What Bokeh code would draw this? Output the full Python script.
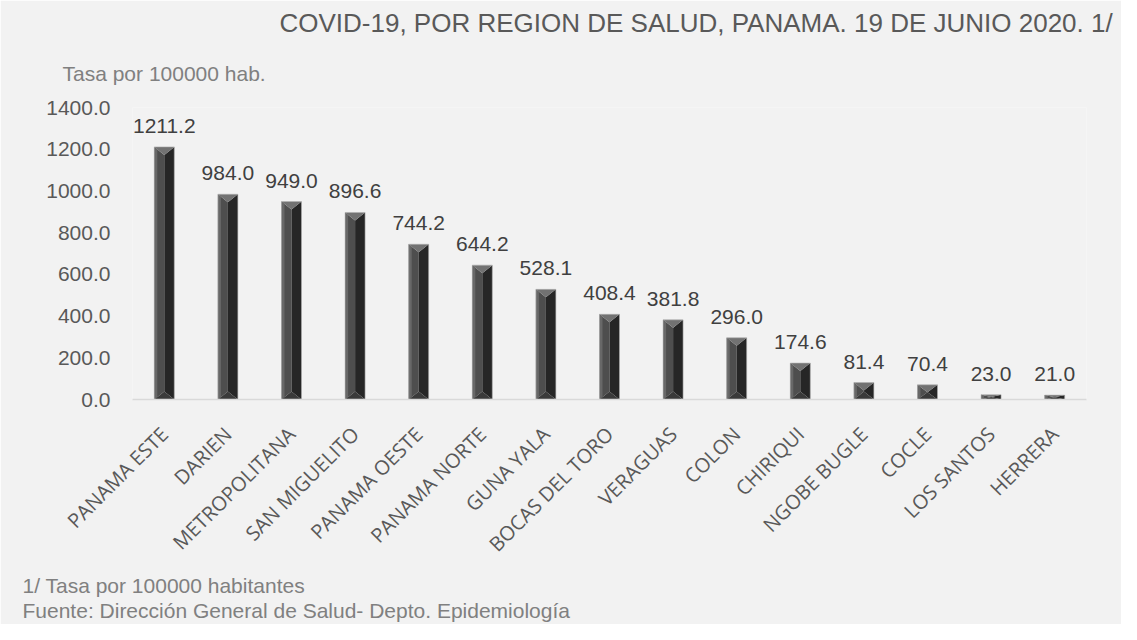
import math
from bokeh.plotting import figure
from bokeh.models import (ColumnDataSource, FixedTicker, PrintfTickFormatter, Range1d, Title)
from bokeh.core.properties import value
from bokeh.embed import file_html
from bokeh.resources import INLINE

regions = ["PANAMA ESTE", "DARIEN", "METROPOLITANA", "SAN MIGUELITO", "PANAMA OESTE",
           "PANAMA NORTE", "GUNA YALA", "BOCAS DEL TORO", "VERAGUAS", "COLON",
           "CHIRIQUI", "NGOBE BUGLE", "COCLE", "LOS SANTOS", "HERRERA"]
tasa = [1211.2, 984.0, 949.0, 896.6, 744.2, 644.2, 528.1, 408.4, 381.8, 296.0,
        174.6, 81.4, 70.4, 23.0, 21.0]
y_ticks = [0, 200, 400, 600, 800, 1000, 1200, 1400]

title_text = "COVID-19, POR REGION DE SALUD, PANAMA. 19 DE JUNIO 2020. 1/"
ylabel_text = "Tasa por 100000 hab."
foot1 = "1/ Tasa por 100000 habitantes"
foot2 = "Fuente: Dirección General de Salud- Depto. Epidemiología"

W, H = 1121, 624
FL, FR, FT = 132, 35, 107
frame_h = 292
ymax = 1400

p = figure(width=W, height=H, output_backend="svg", toolbar_location=None,
           x_range=Range1d(-0.5, len(regions) - 0.5), y_range=Range1d(0, ymax),
           min_border_left=FL, min_border_right=FR, min_border_top=FT, min_border_bottom=0)
p.background_fill_color = "#f2f2f2"
p.border_fill_color = "#f2f2f2"
p.outline_line_color = None
p.xgrid.grid_line_color = None
p.ygrid.grid_line_color = None

# bevelled bars built from data
hw = 0.157
bev_px = 8
units_per_px = ymax / frame_h
xs_top, ys_top, xs_bot, ys_bot, xs_l, ys_l, xs_r, ys_r, xs_s, ys_s = ([] for _ in range(10))
for i, v in enumerate(tasa):
    L, R, C = i - hw, i + hw, i
    by = min(bev_px * units_per_px, v / 2)
    xs_top.append([L, R, C]); ys_top.append([v, v, v - by])
    xs_bot.append([L, R, C]); ys_bot.append([0, 0, by])
    xs_l.append([L, L, C, C]); ys_l.append([0, v, v - by, by])
    xs_r.append([R, R, C, C]); ys_r.append([0, v, v - by, by])
    s = L + (C - L) * 0.3
    f = 0.3
    xs_s.append([L, L, s, s]); ys_s.append([0, v, v - by * f, by * f])

p.patches(xs_l, ys_l, fill_color="#4e4e4e", line_color=None)
p.patches(xs_s, ys_s, fill_color="#686868", line_color=None)
p.patches(xs_r, ys_r, fill_color="#262626", line_color=None)
p.patches(xs_top, ys_top, fill_color="#727272", line_color=None)
p.patches(xs_bot, ys_bot, fill_color="#3a3a3a", line_color=None)
src = ColumnDataSource(dict(x=list(range(len(regions))), top=tasa,
                            lab=[f"{v:.1f}" for v in tasa]))
p.vbar(x="x", top="top", bottom=0, width=2 * hw, source=src, fill_color=None,
       line_color="#b0b0b0", line_width=0.6)

p.text(x="x", y="top", text="lab", source=src, text_align="center", text_baseline="bottom",
       y_offset=-14, text_font=value("Liberation Sans"), text_font_size="21px",
       text_color="#404040")

# axes
xa = p.xaxis[0]
xa.ticker = FixedTicker(ticks=list(range(len(regions))))
xa.major_label_overrides = {i: r for i, r in enumerate(regions)}
xa.major_label_orientation = math.pi / 4
xa.major_label_text_font = "Open Sans"
xa.major_label_text_font_size = "20px"
xa.major_label_text_color = "#595959"
xa.major_label_standoff = 25
xa.axis_line_color = "#d9d9d9"
xa.axis_line_width = 1.5
xa.major_tick_line_color = None
xa.minor_tick_line_color = None

ya = p.yaxis[0]
ya.ticker = FixedTicker(ticks=y_ticks)
ya.formatter = PrintfTickFormatter(format="%.1f")
ya.major_label_text_font = "Liberation Sans"
ya.major_label_text_font_size = "21px"
ya.major_label_text_color = "#595959"
ya.major_label_standoff = 16
ya.axis_line_color = None
ya.major_tick_line_color = None
ya.minor_tick_line_color = None

def mk_title(text, offset, size, color, standoff, where):
    t = Title(text=text, align="left", offset=offset, text_font="Liberation Sans",
              text_font_size=size, text_color=color, text_font_style="normal",
              standoff=standoff, text_line_height=1.1)
    p.add_layout(t, where)

mk_title(ylabel_text, -70, "21px", "#808080", 45, "above")
mk_title(title_text, 147, "26px", "#595959", 0, "above")
mk_title(foot1 + "\n" + foot2, -110, "21px", "#808080", 5, "below")

open("out.html", "w").write(file_html(p, INLINE))
